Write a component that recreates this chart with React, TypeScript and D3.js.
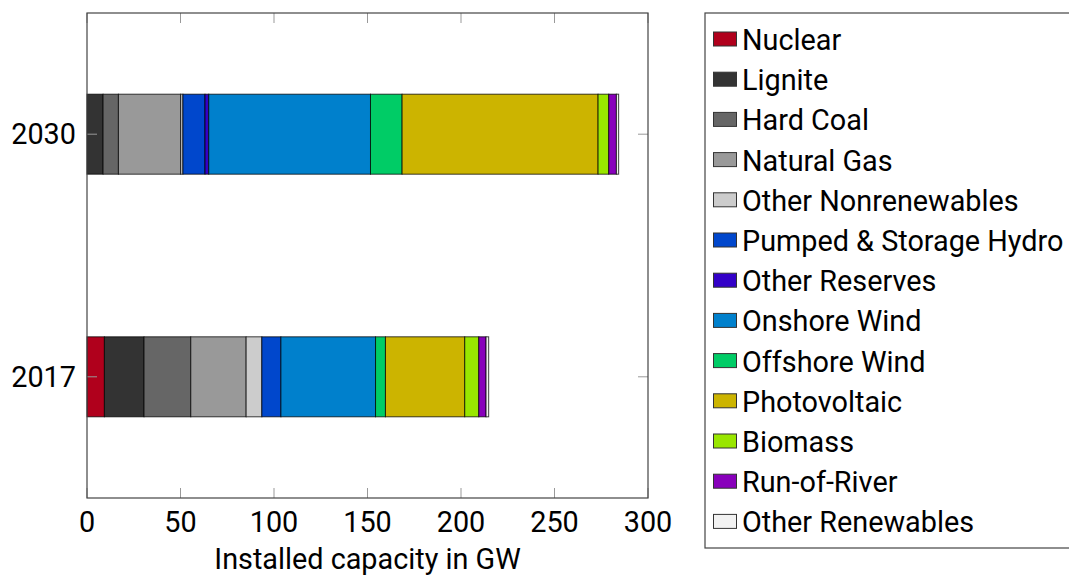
import React from "react";
import * as d3 from "d3";

const years = ["2030", "2017"];
const technologies = [
  "Nuclear",
  "Lignite",
  "Hard Coal",
  "Natural Gas",
  "Other Nonrenewables",
  "Pumped & Storage Hydro",
  "Other Reserves",
  "Onshore Wind",
  "Offshore Wind",
  "Photovoltaic",
  "Biomass",
  "Run-of-River",
  "Other Renewables",
];
const colors = [
  "#b0001c",
  "#333333",
  "#666666",
  "#999999",
  "#cccccc",
  "#0047cc",
  "#3300c8",
  "#0080cc",
  "#00cc66",
  "#ccb400",
  "#99e600",
  "#8800bb",
  "#f2f2f2",
];
const values2030 = [0, 8.6, 8.2, 33.3, 1.2, 11.8, 2.0, 86.5, 16.9, 104.8, 5.7, 4.1, 1.2];
const values2017 = [9.3, 21.2, 25.0, 29.6, 8.4, 10.2, 0, 50.6, 5.3, 42.4, 7.5, 3.9, 1.4];
const xTicks = [0, 50, 100, 150, 200, 250, 300];

const FONT = "Roboto, 'Noto Sans', sans-serif";

export default function App() {
  const left = 87, right = 648, top = 13, bottom = 498;
  const x = d3.scaleLinear().domain([0, 300]).range([left, right]);
  const y = d3.scaleBand().domain(years).range([top, bottom]).paddingInner(0.667).paddingOuter(0.333);
  const seriesByYear: Record<string, number[]> = { "2030": values2030, "2017": values2017 };
  const tick = 10;
  const legendX = 705, legendY = 13, legendW = 370, legendH = 535;
  const rowH = 40.2;
  const fs = 28.8;

  return (
    <svg width={1069} height={577} style={{ position: "absolute", left: 0, top: 0 }} fontFamily={FONT}>
      <rect x={0} y={0} width={1069} height={577} fill="white" />
      {years.map((yr) => {
        const vals = seriesByYear[yr];
        const cum = d3.cumsum(vals);
        const bh = 80;
        const cy = (y(yr) as number) + y.bandwidth() / 2;
        return (
          <g key={yr}>
            {vals.map((v, i) => {
              const x0 = x(cum[i] - v);
              const x1 = x(cum[i]);
              if (v <= 0) return null;
              return (
                <rect
                  key={i}
                  x={x0}
                  y={cy - bh / 2}
                  width={x1 - x0}
                  height={bh}
                  fill={colors[i]}
                  stroke="#000"
                  strokeOpacity={0.75}
                  strokeWidth={1}
                />
              );
            })}
          </g>
        );
      })}
      {xTicks.map((t) => (
        <g key={t}>
          <line x1={x(t)} x2={x(t)} y1={bottom} y2={bottom - tick} stroke="#999" strokeWidth={1} />
          <line x1={x(t)} x2={x(t)} y1={top} y2={top + tick} stroke="#999" strokeWidth={1} />
          <text x={x(t)} y={bottom + 34} textAnchor="middle" fontSize={fs} fill="#000">
            {t}
          </text>
        </g>
      ))}
      {years.map((yr) => {
        const cy = (y(yr) as number) + y.bandwidth() / 2;
        return (
          <g key={yr}>
            <line x1={right} x2={right - tick} y1={cy} y2={cy} stroke="#999" strokeWidth={1} />
            <line x1={left} x2={left + tick} y1={cy} y2={cy} stroke="#999" strokeWidth={1} />
            <text x={left - 11} y={cy} dy="0.35em" textAnchor="end" fontSize={fs} fill="#000">
              {yr}
            </text>
          </g>
        );
      })}
      <rect x={left} y={top} width={right - left} height={bottom - top} fill="none" stroke="#444" strokeWidth={1.2} />
      <text x={(left + right) / 2} y={569} textAnchor="middle" fontSize={fs} fill="#000">
        Installed capacity in GW
      </text>
      <rect x={legendX} y={legendY} width={legendW} height={legendH} fill="white" stroke="#444" strokeWidth={1.2} />
      {technologies.map((t, i) => {
        const cy = 40 + i * rowH;
        return (
          <g key={t}>
            <rect x={713.5} y={cy - 8} width={23} height={14} fill={colors[i]} stroke="#333" strokeWidth={1} />
            <text x={742} y={cy} dy="0.35em" fontSize={fs} fill="#000">
              {t}
            </text>
          </g>
        );
      })}
    </svg>
  );
}
